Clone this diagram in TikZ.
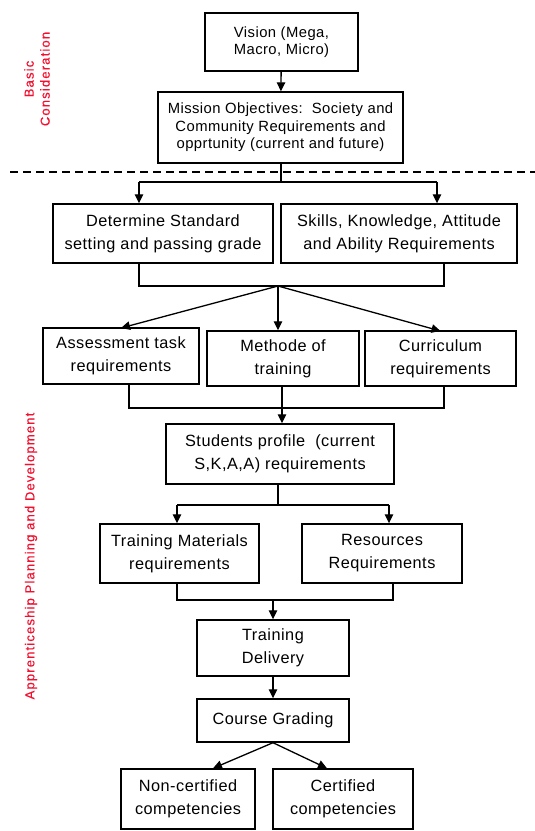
\documentclass[tikz,border=0pt]{standalone}
\usepackage{fontspec}
\setmainfont{Liberation Sans}
\newfontfamily\boxfont[LetterSpace=3]{Liberation Sans}
\newfontfamily\sidefont[LetterSpace=9,FakeBold=0.5]{Liberation Sans}
\usetikzlibrary{arrows.meta,calc}
\definecolor{sidered}{HTML}{F2102E}
\begin{document}
\begin{tikzpicture}[x=1pt,y=-1pt,
  box/.style={draw=black,line width=1.4pt,inner sep=0pt,align=center,
    font=\boxfont\fontsize{16.3}{23}\selectfont},
  topbox/.style={box,font=\boxfont\fontsize{14.8}{17.5}\selectfont},
  link/.style={line width=1.3pt},
  arr/.style={link,-{Triangle[length=9pt,width=8.5pt]}},
  sidelabel/.style={text=sidered,rotate=90,align=center,
    font=\sidefont\fontsize{13}{16}\selectfont}]
\useasboundingbox (0,0) rectangle (535,831);

% planning stages
\node[topbox,minimum width=153,minimum height=58] (vision) at (281.5,42)
  {Vision (Mega,\\Macro, Micro)};
\node[topbox,minimum width=245,minimum height=71] (mission) at (280.5,127.5)
  {Mission Objectives:~~Society and\\Community Requirements and\\opprtunity (current and future)};
\node[box,minimum width=220,minimum height=59] (standard) at (163,233.5)
  {Determine Standard\\setting and passing grade};
\node[box,minimum width=236,minimum height=59] (ska) at (399,233.5)
  {Skills, Knowledge, Attitude\\and Ability Requirements};
\node[box,minimum width=156,minimum height=56] (assess) at (121,356)
  {Assessment task\\requirements};
\node[box,minimum width=152,minimum height=55] (method) at (283,358.5)
  {Methode of\\training};
\node[box,minimum width=151,minimum height=55] (curric) at (440.5,358.5)
  {Curriculum\\requirements};
\node[box,minimum width=228,minimum height=60] (profile) at (280,454)
  {Students profile~~(current\\S,K,A,A) requirements};
\node[box,minimum width=159,minimum height=59] (materials) at (179.5,553.5)
  {Training Materials\\requirements};
\node[box,minimum width=160,minimum height=59] (resources) at (382,553.5)
  {Resources\\Requirements};
\node[box,minimum width=152,minimum height=56] (delivery) at (273,648)
  {Training\\Delivery};
\node[box,minimum width=152,minimum height=43] (grading) at (273,720.5)
  {Course Grading};
\node[box,minimum width=134,minimum height=60] (noncert) at (188,799)
  {Non-certified\\competencies};
\node[box,minimum width=140,minimum height=60] (cert) at (343,799)
  {Certified\\competencies};

% side captions
\node[sidelabel] (basic) at (37,79) {Basic\\Consideration};
\node[sidelabel] (appr) at (31,556) {Apprenticeship Planning and Development};

% boundary between the two phases
\coordinate (dashL) at (10,172);
\coordinate (dashR) at (535,172);
\draw[line width=1.3pt,dash pattern=on 8pt off 5pt] (dashL) -- (dashR);

% junction points
\coordinate (split1) at (281,182);
\coordinate (s1L) at (139,182);
\coordinate (s1R) at (437,182);
\coordinate (m1L) at (139,286);
\coordinate (m1R) at (444,286);
\coordinate (merge1) at (278,286);
\coordinate (m2L) at (129,408);
\coordinate (m2C) at (282,408);
\coordinate (m2R) at (444,408);
\coordinate (split3) at (278,505);
\coordinate (s3L) at (177,505);
\coordinate (s3R) at (389,505);
\coordinate (m4L) at (177,600);
\coordinate (m4R) at (393,600);
\coordinate (merge4) at (273,600);

% connectors
\draw[arr] (vision) -- (mission);
\draw[link] (mission.south -| split1) -- (split1);
\draw[link] (s1L) -- (s1R);
\draw[arr] (s1L) -- (s1L |- standard.north);
\draw[arr] (s1R) -- (s1R |- ska.north);

\draw[link] (m1L |- standard.south) -- (m1L) -- (m1R) -- (m1R |- ska.south);
\draw[arr] (merge1) -- (137,328 -| assess.north);
\draw[arr] (merge1) -- (merge1 |- method.north);
\draw[arr] (merge1) -- (438,331 -| curric.north);

\draw[link] (m2L |- assess.south) -- (m2L) -- (m2R) -- (m2R |- curric.south);
\draw[link] (m2C |- method.south) -- (m2C);
\draw[arr] (m2C) -- (m2C |- profile.north);

\draw[link] (split3 |- profile.south) -- (split3);
\draw[link] (s3L) -- (s3R);
\draw[arr] (s3L) -- (s3L |- materials.north);
\draw[arr] (s3R) -- (s3R |- resources.north);

\draw[link] (m4L |- materials.south) -- (m4L) -- (m4R) -- (m4R |- resources.south);
\draw[arr] (merge4) -- (delivery);
\draw[arr] (delivery) -- (grading);
\draw[arr] (grading.south) -- ([xshift=25pt]noncert.north);
\draw[arr] (grading.south) -- ([xshift=-16pt]cert.north);
\end{tikzpicture}
\end{document}
